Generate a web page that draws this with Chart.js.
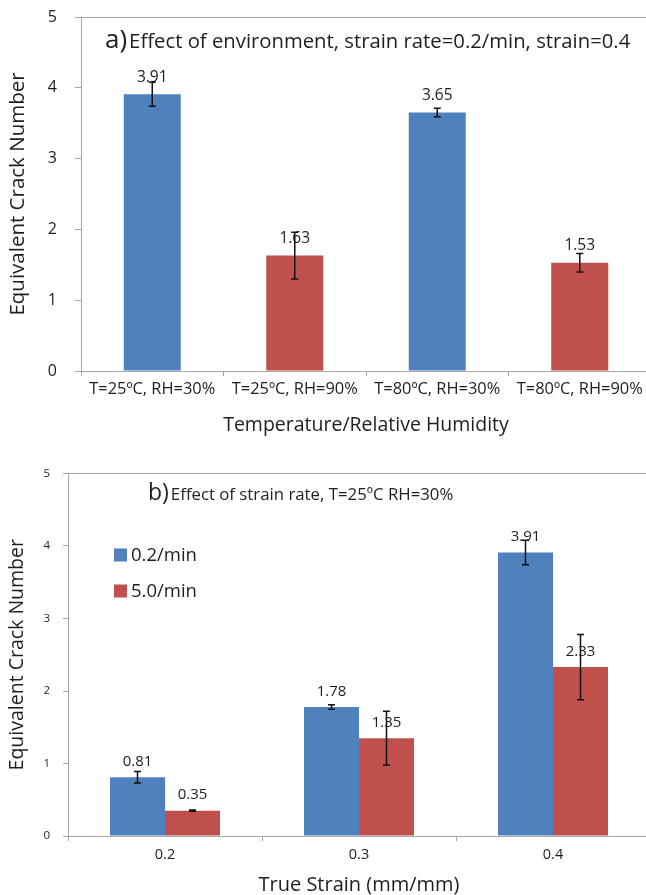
<!DOCTYPE html>
<html>
<head>
<meta charset="utf-8">
<script src="https://cdn.jsdelivr.net/npm/chart.js@4.4.0/dist/chart.umd.min.js"></script>
<style>
  html, body { margin: 0; padding: 0; background: #fff; overflow: hidden; width: 646px; height: 895px; }
  .panel { position: absolute; left: 0; width: 660px; height: 445px; }
  #panelA { top: 0; }
  #panelB { top: 450px; }
</style>
</head>
<body>
<div class="panel" id="panelA"><canvas id="envChart" width="660" height="445"></canvas></div>
<div class="panel" id="panelB"><canvas id="rateChart" width="660" height="445"></canvas></div>
<script>
// ---- Panel a: effect of environment ----
const envCategories = ['T=25\u00BAC, RH=30%', 'T=25\u00BAC, RH=90%', 'T=80\u00BAC, RH=30%', 'T=80\u00BAC, RH=90%'];
const envValues = [3.91, 1.63, 3.65, 1.53];
const envErrors = [0.17, 0.33, 0.06, 0.13];

// ---- Panel b: effect of strain rate ----
const strainCategories = ['0.2', '0.3', '0.4'];
const rateSeriesNames = ['0.2/min', '5.0/min'];
const slowRateValues = [0.81, 1.78, 3.91];
const slowRateErrors = [0.08, 0.03, 0.17];
const fastRateValues = [0.35, 1.35, 2.33];
const fastRateErrors = [0.01, 0.37, 0.45];

const yMin = 0, yMax = 5, yStep = 1;

const BLUE = '#4f81bd';
const RED = '#c0504d';
const AXIS = '#a6a6a6';
const INK = '#1e1e1e';
const FONT = '"Open Sans", "Liberation Sans", sans-serif';

// Value text above each bar
const valueLabelPlugin = {
  id: 'valueLabels',
  afterDatasetsDraw(chart, args, opts) {
    const ctx = chart.ctx;
    ctx.save();
    ctx.font = opts.font;
    ctx.fillStyle = INK;
    ctx.textAlign = 'center';
    ctx.textBaseline = 'middle';
    chart.data.datasets.forEach((ds, di) => {
      chart.getDatasetMeta(di).data.forEach((bar, i) => {
        ctx.fillText(ds.data[i].toFixed(2), bar.x, bar.y - opts.offset);
      });
    });
    ctx.restore();
  }
};

// Symmetric error bars with small caps
const errorBarPlugin = {
  id: 'errorBars',
  afterDatasetsDraw(chart, args, opts) {
    const ctx = chart.ctx;
    const y = chart.scales.y;
    ctx.save();
    ctx.strokeStyle = '#111';
    ctx.lineWidth = 1.5;
    chart.data.datasets.forEach((ds, di) => {
      if (!ds.errors) return;
      chart.getDatasetMeta(di).data.forEach((bar, i) => {
        const v = ds.data[i], e = ds.errors[i];
        const top = y.getPixelForValue(v + e);
        const bot = y.getPixelForValue(v - e);
        const c = opts.cap;
        ctx.beginPath();
        ctx.moveTo(bar.x, top); ctx.lineTo(bar.x, bot);
        ctx.moveTo(bar.x - c, top); ctx.lineTo(bar.x + c, top);
        ctx.moveTo(bar.x - c, bot); ctx.lineTo(bar.x + c, bot);
        ctx.stroke();
      });
    });
    ctx.restore();
  }
};

// Panel heading drawn inside the plot area: a large tag plus the description
const panelTitlePlugin = {
  id: 'panelTitle',
  afterDraw(chart, args, opts) {
    const ctx = chart.ctx;
    const a = chart.chartArea;
    ctx.save();
    ctx.fillStyle = INK;
    ctx.textBaseline = 'alphabetic';
    ctx.textAlign = 'left';
    let x = a.left + opts.dx;
    const yb = a.top + opts.dy;
    ctx.font = opts.tagFont;
    ctx.fillText(opts.tag, x, yb);
    x += ctx.measureText(opts.tag).width + opts.gap;
    ctx.font = opts.textFont;
    ctx.fillText(opts.text, x, yb);
    ctx.restore();
  }
};

// Legend with square swatches placed inside the plot area
const boxLegendPlugin = {
  id: 'boxLegend',
  afterDraw(chart, args, opts) {
    if (!opts.show) return;
    const ctx = chart.ctx;
    const a = chart.chartArea;
    ctx.save();
    ctx.font = opts.font;
    ctx.textBaseline = 'middle';
    ctx.textAlign = 'left';
    chart.data.datasets.forEach((ds, i) => {
      const cy = a.top + opts.dy + i * opts.gap;
      const x = a.left + opts.dx;
      ctx.fillStyle = ds.backgroundColor;
      ctx.fillRect(x, cy - opts.box / 2, opts.box, opts.box);
      ctx.fillStyle = INK;
      ctx.fillText(ds.label, x + opts.box + 4, cy + 1);
    });
    ctx.restore();
  }
};

function buildOptions(cfg) {
  return {
    responsive: false,
    animation: false,
    events: [],
    layout: { padding: { left: 0, top: cfg.padTop, right: cfg.padRight, bottom: 0 } },
    plugins: {
      legend: { display: false },
      tooltip: { enabled: false },
      valueLabels: { font: cfg.labelFont, offset: cfg.labelOffset },
      errorBars: { cap: 3.5 },
      panelTitle: cfg.title,
      boxLegend: cfg.legend || { show: false }
    },
    scales: {
      x: {
        afterFit: s => { s.height = cfg.xHeight; },
        border: { display: true, color: AXIS, width: 1 },
        grid: { offset: true, drawOnChartArea: false, drawTicks: true, tickLength: 5, tickColor: AXIS },
        ticks: { color: INK, font: { family: FONT, size: cfg.xTickSize }, padding: cfg.xTickPad, maxRotation: 0, autoSkip: false },
        title: { display: true, text: cfg.xTitle, color: INK, font: { family: FONT, size: cfg.xTitleSize, lineHeight: cfg.xTitleLH },
                 padding: { top: 0, bottom: cfg.xTitlePadBottom } }
      },
      y: {
        min: yMin, max: yMax,
        afterFit: s => { s.width = cfg.yWidth; s.paddingTop = 0; s.paddingBottom = 0; },
        border: { display: true, color: AXIS, width: 1 },
        grid: {
          drawOnChartArea: true,
          color: c => (c.tick && c.tick.value === yMax ? AXIS : 'rgba(0,0,0,0)'),
          drawTicks: true, tickLength: cfg.yTickLen, tickColor: AXIS
        },
        ticks: { stepSize: yStep, color: INK, font: { family: FONT, size: cfg.yTickSize }, padding: cfg.yTickPad },
        title: { display: true, text: 'Equivalent Crack Number', color: INK, font: { family: FONT, size: cfg.yTitleSize },
                 padding: { top: 6, bottom: 0 } }
      }
    }
  };
}

const plugins = [valueLabelPlugin, errorBarPlugin, panelTitlePlugin, boxLegendPlugin];

new Chart(document.getElementById('envChart'), {
  type: 'bar',
  data: {
    labels: envCategories,
    datasets: [{
      label: 'Environment',
      data: envValues,
      errors: envErrors,
      backgroundColor: [BLUE, RED, BLUE, RED],
      barPercentage: 0.4,
      categoryPercentage: 1
    }]
  },
  options: buildOptions({
    padTop: 17, padRight: 9,
    xHeight: 74, xTickSize: 16.4, xTickPad: 3, xTitle: 'Temperature/Relative Humidity', xTitleSize: 19.5, xTitleLH: 1.2, xTitlePadBottom: 8,
    yWidth: 81, yTickLen: 6, yTickSize: 16, yTickPad: 18, yTitleSize: 20.5,
    labelFont: '15.5px ' + FONT, labelOffset: 17,
    title: { tag: 'a)', text: 'Effect of environment, strain rate=0.2/min, strain=0.4', dx: 24, dy: 31, gap: 2,
             tagFont: '26px ' + FONT, textFont: '20.3px ' + FONT }
  }),
  plugins
});

new Chart(document.getElementById('rateChart'), {
  type: 'bar',
  data: {
    labels: strainCategories,
    datasets: [
      { label: rateSeriesNames[0], data: slowRateValues, errors: slowRateErrors, backgroundColor: BLUE, barPercentage: 1, categoryPercentage: 0.567 },
      { label: rateSeriesNames[1], data: fastRateValues, errors: fastRateErrors, backgroundColor: RED, barPercentage: 1, categoryPercentage: 0.567 }
    ]
  },
  options: buildOptions({
    padTop: 23.5, padRight: 10,
    xHeight: 59, xTickSize: 14.5, xTickPad: 5, xTitle: 'True Strain (mm/mm)', xTitleSize: 20, xTitleLH: 1, xTitlePadBottom: 0,
    yWidth: 68, yTickLen: 5, yTickSize: 11.5, yTickPad: 13, yTitleSize: 19.5,
    labelFont: '15px ' + FONT, labelOffset: 15.5,
    title: { tag: 'b)', text: 'Effect of strain rate, T=25\u00BAC RH=30%', dx: 80, dy: 26.5, gap: 2,
             tagFont: '23px ' + FONT, textFont: '16.8px ' + FONT },
    legend: { show: true, font: '18.5px ' + FONT, dx: 46, dy: 81.5, gap: 36, box: 13 }
  }),
  plugins
});
</script>
</body>
</html>
